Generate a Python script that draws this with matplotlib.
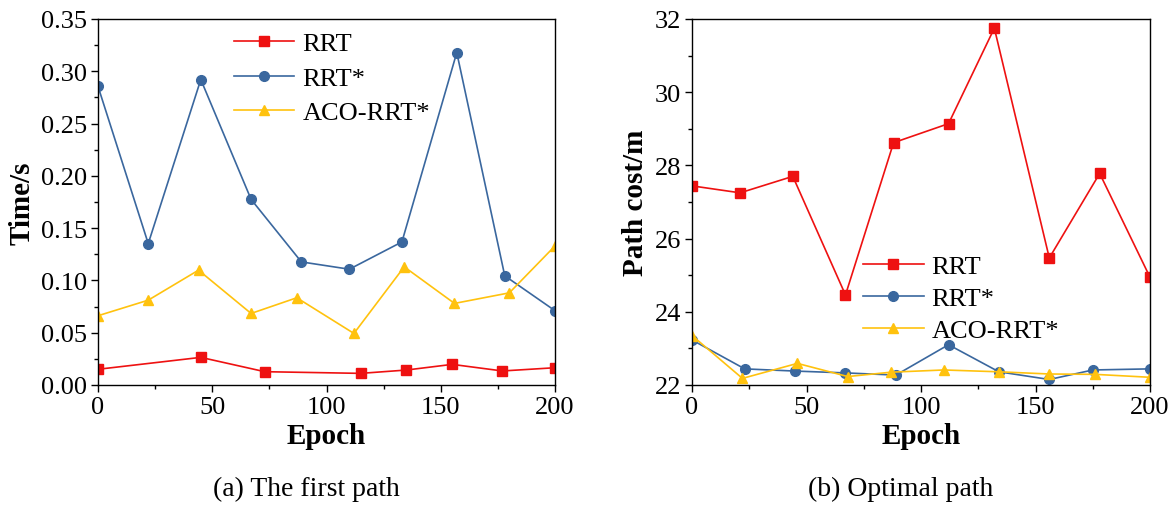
import matplotlib.pyplot as plt
from matplotlib.ticker import MultipleLocator

plt.rcParams['font.family'] = ['Liberation Serif', 'DejaVu Serif']

# (a) time to first path
ep_rrt_a = [0, 45, 73, 115, 135, 155, 177, 200]
t_rrt = [0.015, 0.0264, 0.0127, 0.0111, 0.0143, 0.0197, 0.0134, 0.0165]
ep_star_a = [0, 22, 45, 67, 89, 110, 133, 157, 178, 200]
t_star = [0.2857, 0.1352, 0.2921, 0.1775, 0.1177, 0.1107, 0.1368, 0.3179, 0.1044, 0.071]
ep_aco_a = [0, 22, 44, 67, 87, 112, 134, 156, 180, 200]
t_aco = [0.0662, 0.0811, 0.1098, 0.0684, 0.0834, 0.0493, 0.113, 0.078, 0.0881, 0.133]

# (b) optimal path cost
ep_rrt_b = [0, 21, 44, 67, 88, 112, 132, 156, 178, 200]
c_rrt = [27.44, 27.25, 27.7, 24.46, 28.62, 29.14, 31.75, 25.47, 27.78, 24.94]
ep_star_b = [0, 23, 45, 67, 89, 112, 134, 156, 175, 200]
c_star = [23.23, 22.44, 22.38, 22.33, 22.27, 23.1, 22.36, 22.15, 22.41, 22.44]
ep_aco_b = [0, 22, 46, 68, 87, 110, 134, 156, 176, 200]
c_aco = [23.35, 22.18, 22.59, 22.23, 22.35, 22.41, 22.36, 22.3, 22.29, 22.21]

red = '#ee1111'
blue = '#3a679e'
yellow = '#ffc20e'

fig = plt.figure(figsize=(11.69, 5.06), dpi=100)
ax1 = fig.add_axes([0.0838, 0.2372, 0.391, 0.7233])
ax2 = fig.add_axes([0.592, 0.2372, 0.3918, 0.7233])

def style(ax):
    ax.tick_params(which='major', direction='out', length=5, width=1,
                   labelsize=19, top=False, right=False, pad=3)
    ax.tick_params(which='minor', direction='out', length=3, width=1,
                   top=False, right=False)
    for s in ax.spines.values():
        s.set_linewidth(1.0)
    ax.set_xlim(0, 200)
    ax.xaxis.set_major_locator(MultipleLocator(50))
    ax.xaxis.set_minor_locator(MultipleLocator(25))
    ax.set_xlabel('Epoch', fontsize=21, fontweight='bold', labelpad=3)

kw = dict(lw=1.2, ms=7)

ax1.plot(ep_rrt_a, t_rrt, color=red, marker='s', label='RRT', **kw)
ax1.plot(ep_star_a, t_star, color=blue, marker='o', label='RRT*', **kw)
ax1.plot(ep_aco_a, t_aco, color=yellow, marker='^', label='ACO-RRT*', **kw)
style(ax1)
ax1.set_ylim(0, 0.35)
ax1.yaxis.set_major_locator(MultipleLocator(0.05))
ax1.yaxis.set_minor_locator(MultipleLocator(0.025))
ax1.yaxis.set_major_formatter(lambda v, p: '%.2f' % v)
ax1.set_ylabel('Time/s', fontsize=21, fontweight='bold', labelpad=4)
ax1.legend(loc='upper left', bbox_to_anchor=(0.245, 1.03), frameon=False,
           fontsize=19, handlelength=2.3, handletextpad=0.3, labelspacing=0.42)

ax2.plot(ep_rrt_b, c_rrt, color=red, marker='s', label='RRT', **kw)
ax2.plot(ep_star_b, c_star, color=blue, marker='o', label='RRT*', **kw)
ax2.plot(ep_aco_b, c_aco, color=yellow, marker='^', label='ACO-RRT*', **kw)
style(ax2)
ax2.set_ylim(22, 32)
ax2.yaxis.set_major_locator(MultipleLocator(2))
ax2.yaxis.set_minor_locator(MultipleLocator(1))
ax2.set_ylabel('Path cost/m', fontsize=21, fontweight='bold', labelpad=4)
ax2.legend(loc='upper left', bbox_to_anchor=(0.321, 0.42), frameon=False,
           fontsize=19, handlelength=2.3, handletextpad=0.3, labelspacing=0.32)

fig.text(0.262, 0.02, '(a) The first path', ha='center', fontsize=20)
fig.text(0.77, 0.02, '(b) Optimal path', ha='center', fontsize=20)

fig.savefig('out.png', dpi=100)
